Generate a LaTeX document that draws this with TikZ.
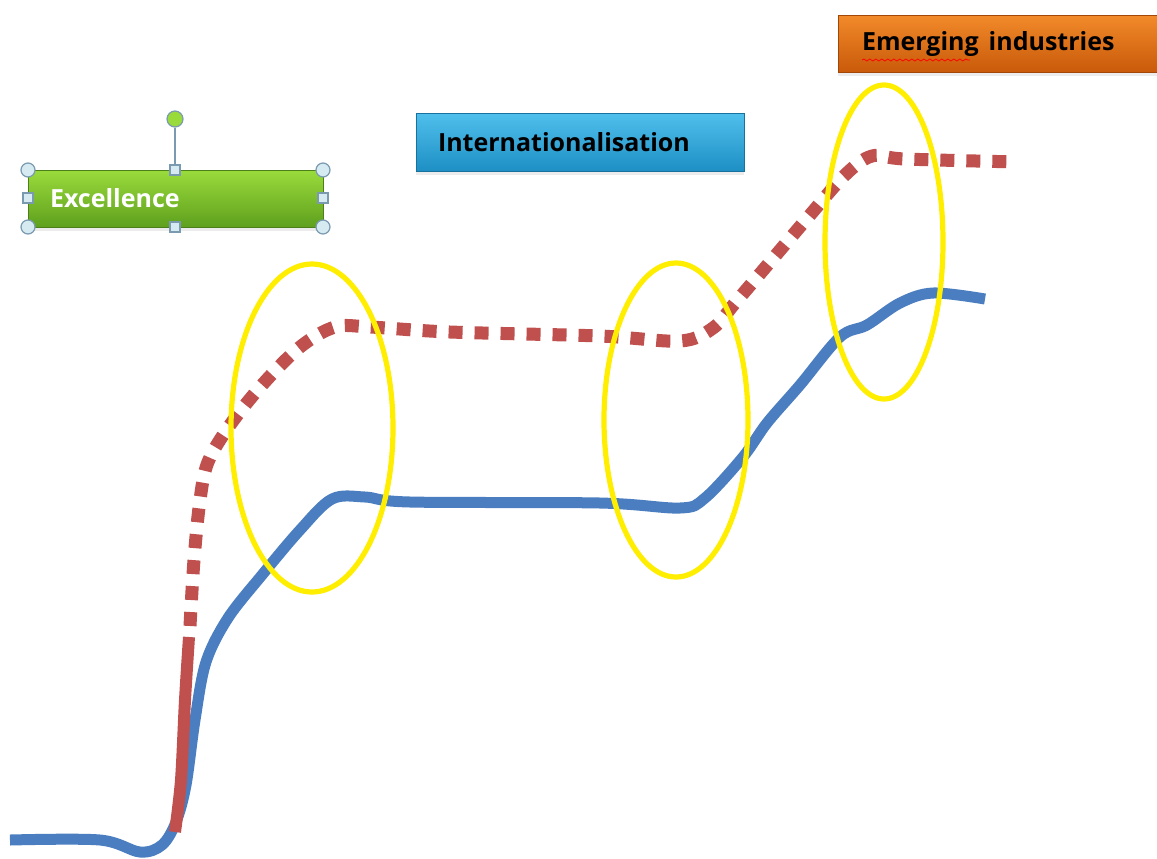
\documentclass[tikz,border=0pt]{standalone}
\usepackage{fontspec}
\setmainfont{Open Sans}
\usetikzlibrary{shapes.geometric,decorations.pathmorphing,shadows}
\definecolor{cblue}{HTML}{4A7EC0}
\definecolor{cred}{HTML}{C0504D}
\definecolor{cyel}{HTML}{FFEE00}
\definecolor{gtop}{HTML}{9ADB3C}
\definecolor{gbot}{HTML}{5FA01E}
\definecolor{btop}{HTML}{4FC0EC}
\definecolor{bbot}{HTML}{1E8FC4}
\definecolor{otop}{HTML}{F28A2A}
\definecolor{obot}{HTML}{C95A0A}
\definecolor{hfill}{HTML}{D6EAF2}
\definecolor{hdraw}{HTML}{7A9AB0}
\tikzset{
  curveline/.style={line width=5.5pt, line cap=butt, line join=round},
  ring/.style={cyel, line width=2.6pt},
  tag/.style={rectangle, inner xsep=11pt, inner ysep=0pt, align=left,
    font=\fontsize{12.5}{14}\selectfont\bfseries, drop shadow={opacity=0.15, shadow xshift=0pt, shadow yshift=-2pt}},
  handlec/.style={circle, draw=hdraw, fill=hfill, line width=0.6pt, minimum size=7pt, inner sep=0pt},
  handles/.style={rectangle, draw=hdraw, fill=hfill, line width=0.6pt, minimum size=5pt, inner sep=0pt},
}
\begin{document}
\begin{tikzpicture}[x=0.5pt, y=-0.5pt]
\fill[white] (0,0) rectangle (1157,858);
\useasboundingbox (0,0) rectangle (1157,858);

% blue curve
\draw[cblue, curveline] plot[smooth, tension=0.55] coordinates {
 (10,840) (100,840) (140,852) (162,845) (176,822) (186,785) (195,720) (206,662)
 (228,618) (262,575) (300,530) (332,499) (365,497) (410,502) (600,503)
 (680,508) (705,498) (743,457) (767,423) (800,385) (840,337) (867,325)
 (900,303) (933,293) (985,299)};

% red curve: solid lower part
\draw[cred, curveline, line width=6pt] plot[smooth, tension=0.5] coordinates {
 (175,832) (181,780) (185,700) (189,637)};
% red curve: dashed part
\draw[cred, curveline, line width=6.5pt, dash pattern=on 7pt off 6pt] plot[smooth, tension=0.55] coordinates {
 (190,626) (194,560) (200,500) (208,462) (230,425) (262,385) (300,347)
 (335,327) (370,327) (450,332) (600,336) (680,341) (713,328) (735,303)
 (770,262) (810,215) (845,175) (872,156) (905,159) (1018,162)};

% yellow ellipses
\draw[ring] (312,428) ellipse [x radius=81, y radius=164];
\draw[ring] (676,420) ellipse [x radius=72, y radius=157];
\draw[ring] (884,242) ellipse [x radius=59, y radius=157];

% boxes
\node[tag, top color=gtop, bottom color=gbot, draw=gbot!80!black, line width=0.5pt,
  text=white, minimum width=147.5pt, minimum height=28.5pt, text width=125.5pt]
  (exc) at (175.5,198.5) {Excellence};
\node[tag, top color=btop, bottom color=bbot, draw=bbot!80!black, line width=0.5pt,
  text=black, minimum width=164pt, minimum height=29pt, text width=142pt]
  (int) at (580,142) {Internationalisation};
\node[tag, top color=otop, bottom color=obot, draw=obot!80!black, line width=0.5pt,
  text=black, minimum width=162pt, minimum height=28.5pt, text width=138pt, inner xsep=12pt]
  (emg) at (1000,43.5) {Emerging\hspace{5pt}industries};
\draw[red, line width=0.4pt, decorate, decoration={snake, amplitude=0.5pt, segment length=3pt}]
  (862,60) -- (970,60);

% selection handles around Excellence
\node[circle, draw=hdraw, fill=gtop, line width=0.6pt, minimum size=8pt, inner sep=0pt] (rot) at (175,119) {};
\node[handles] (hn) at (175,170) {};
\draw[hdraw, line width=0.8pt] (rot) -- (hn);
\node[handles] (hs) at (175,227) {};
\node[handles] (hw) at (28,198) {};
\node[handles] (he) at (323,198) {};
\node[handlec] (hnw) at (28,170) {};
\node[handlec] (hne) at (323,170) {};
\node[handlec] (hsw) at (28,227) {};
\node[handlec] (hse) at (323,227) {};
\end{tikzpicture}
\end{document}
